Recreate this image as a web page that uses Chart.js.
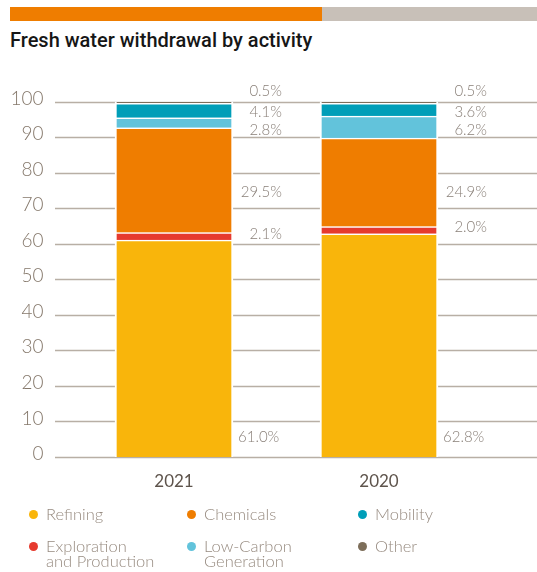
<!DOCTYPE html>
<html lang="en">
<head>
    <meta charset="UTF-8">
    <title>Fresh water withdrawal by activity</title>
    <script src="https://cdn.jsdelivr.net/npm/chart.js@4"></script>
    <style>
        body { margin: 0; background: #fff; width: 537px; height: 572px; position: relative; overflow: hidden; }
        .band { position: absolute; top: 7px; height: 14px; }
        .band.orange { left: 10px; width: 312px; background: #ef7d00; }
        .band.grey { left: 322px; width: 215px; background: #c8c0b8; }
        h1 { position: absolute; left: 10px; top: 30px; margin: 0; font: 500 20px/20px Roboto, sans-serif; color: #161616; }
        #wrap { position: absolute; left: 0; top: 0; width: 537px; height: 572px; }
        .item { position: absolute; font: 300 16.5px Lato, sans-serif; color: #978b80; line-height: 15px; }
        .item i { position: absolute; left: -17px; top: 3px; width: 9px; height: 9px; border-radius: 50%; }
    </style>
</head>
<body>
<div class="band orange"></div>
<div class="band grey"></div>
<h1>Fresh water withdrawal by activity</h1>
<div id="wrap"><canvas id="waterChart"></canvas></div>
<div id="legend"></div>

<script>
    const years = ['2021', '2020'];
    const activities = ['Refining', 'Exploration\nand Production', 'Chemicals', 'Low-Carbon\nGeneration', 'Mobility', 'Other'];
    const refining = [61.0, 62.8];
    const exploration = [2.1, 2.0];
    const chemicals = [29.5, 24.9];
    const lowCarbon = [2.8, 6.2];
    const mobility = [4.1, 3.6];
    const other = [0.5, 0.5];
    const yTicks = [0, 10, 20, 30, 40, 50, 60, 70, 80, 90, 100];

    const colors = ['#f9b50b', '#e63a2e', '#ef7d00', '#62c3db', '#009eb8', '#7d6e5a'];
    const series = [refining, exploration, chemicals, lowCarbon, mobility, other];

    // where each percentage sits on the y axis (null = just above the top of its segment)
    const labelAt = [5.6, null, 74.5, 91.8, 97.1, 103];

    const gridLines = {
        id: 'gridLines',
        beforeDatasetsDraw(chart) {
            const ctx = chart.ctx;
            const y = chart.scales.y;
            ctx.save();
            ctx.strokeStyle = '#b8afa5';
            ctx.lineWidth = 1.3;
            yTicks.forEach(t => {
                const py = Math.round(y.getPixelForValue(t)) + 0.5;
                ctx.beginPath();
                ctx.moveTo(55, py);
                ctx.lineTo(chart.width, py);
                ctx.stroke();
            });
            ctx.restore();
        }
    };

    const valueLabels = {
        id: 'valueLabels',
        afterDatasetsDraw(chart) {
            const ctx = chart.ctx;
            const y = chart.scales.y;
            ctx.save();
            ctx.font = '300 15px Lato, sans-serif';
            ctx.fillStyle = '#8a8079';
            ctx.textBaseline = 'middle';
            chart.data.datasets.forEach((ds, i) => {
                chart.getDatasetMeta(i).data.forEach((bar, j) => {
                    const right = bar.x + bar.width / 2;
                    const text = ds.data[j].toFixed(1) + '%';
                    const py = labelAt[i] === null ? bar.y + 1 : y.getPixelForValue(labelAt[i]);
                    if (i === 0) {
                        ctx.textAlign = 'left';
                        ctx.fillText(text, right + 5, py);
                    } else {
                        ctx.textAlign = 'right';
                        ctx.fillText(text, right + 49, py);
                    }
                });
            });
            ctx.restore();
        }
    };

    const ctx = document.getElementById('waterChart').getContext('2d');
    new Chart(ctx, {
        type: 'bar',
        data: {
            labels: years,
            datasets: series.map((values, i) => ({
                label: activities[i].replace('\n', ' '),
                data: values,
                backgroundColor: colors[i],
                borderColor: '#ffffff',
                borderWidth: { left: 2, right: 2, top: 1.5, bottom: 0 },
                borderSkipped: false,
                barThickness: 118
            }))
        },
        options: {
            responsive: true,
            maintainAspectRatio: false,
            animation: false,
            layout: { padding: { top: 101.5, bottom: 85, left: 11.5, right: 55.5 } },
            plugins: {
                legend: { display: false },
                tooltip: { enabled: false }
            },
            scales: {
                x: {
                    stacked: true,
                    grid: { display: false },
                    border: { display: false },
                    ticks: { color: '#5e544c', font: { family: 'Lato', size: 17 }, padding: 6 },
                    afterFit(scale) { scale.height = 30; }
                },
                y: {
                    stacked: true,
                    min: 0,
                    max: 100,
                    afterBuildTicks(scale) { scale.ticks = yTicks.map(v => ({ value: v })); },
                    grid: { display: false, drawTicks: false },
                    border: { display: false },
                    ticks: { color: '#85786b', font: { family: 'Lato', size: 19, weight: 300 }, padding: 28, labelOffset: -3 },
                    afterFit(scale) { scale.width = 60; }
                }
            }
        },
        plugins: [gridLines, valueLabels]
    });

    // legend in three columns, two rows
    const legendCols = [46, 204, 375];
    const legendRows = [507, 539];
    const legend = document.getElementById('legend');
    [0, 2, 4, 1, 3, 5].forEach((k, n) => {
        const el = document.createElement('div');
        el.className = 'item';
        el.style.left = legendCols[n % 3] + 'px';
        el.style.top = legendRows[Math.floor(n / 3)] + 'px';
        el.innerHTML = '<i style="background:' + colors[k] + '"></i>' + activities[k].replace('\n', '<br>');
        legend.appendChild(el);
    });
</script>
</body>
</html>
